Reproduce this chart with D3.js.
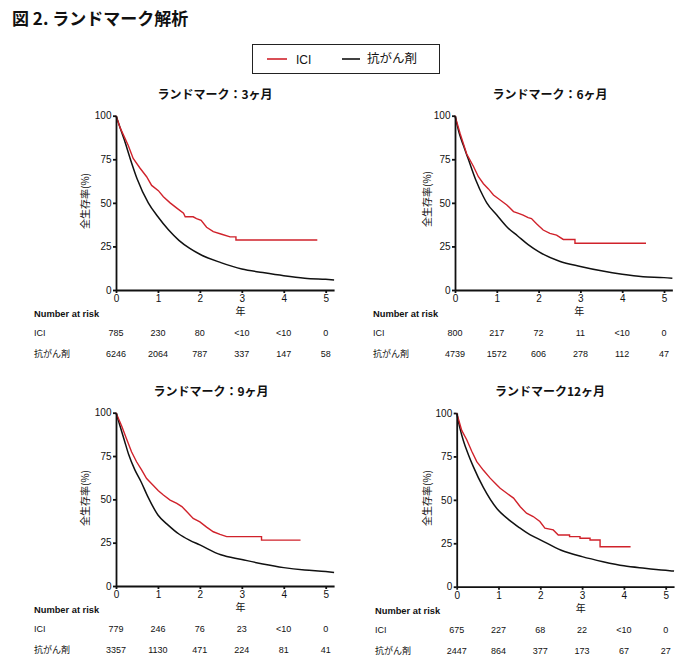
<!DOCTYPE html>
<html>
<head>
<meta charset="utf-8">
<script src="https://cdn.jsdelivr.net/npm/d3@7"></script>
<style>
body { margin: 0; background: #fff; }
svg { display: block; }
text { font-family: "Liberation Sans", Arial, "Noto Sans CJK JP", sans-serif; fill: #111; }
.jp { font-family: "Noto Sans CJK JP", sans-serif; }
.axis path, .axis line { stroke: #111; stroke-width: 1.8; }
.axis text { font-size: 10px; font-family: "Liberation Sans", Arial, sans-serif; fill: #111; }
</style>
</head>
<body>
<svg width="690" height="667"></svg>
<script>
// **** data ****

var years = [0, 1, 2, 3, 4, 5];
var yTicks = [0, 25, 50, 75, 100];
var panelTitles = ['ランドマーク：3ヶ月', 'ランドマーク：6ヶ月', 'ランドマーク：9ヶ月', 'ランドマーク12ヶ月'];
var seriesNames = ['ICI', '抗がん剤'];

// survival curves, [year, %]
var ici3 = [[0,100],[0.1,93],[0.29,83],[0.41,75.5],[0.57,70],[0.73,65],[0.85,60],[1.01,57],[1.13,53.5],[1.29,50],[1.45,47],[1.61,44],[1.65,42],[1.84,42],[1.92,41],[2.03,40],[2.16,36],[2.32,33.5],[2.52,32],[2.72,30.5],[2.86,30.5],[2.86,28.7],[4.8,28.7]];
var chemo3 = [[0,100],[0.1,93],[0.2,86],[0.33,76],[0.5,64],[0.77,50],[1,42],[1.25,34.5],[1.5,28.5],[1.75,24],[2,20.5],[2.5,15.7],[3,12],[3.5,10],[4,8.2],[4.5,6.8],[5,6.1],[5.2,5.8]];

var ici6 = [[0,100],[0.12,90],[0.28,78],[0.44,71],[0.56,65],[0.68,61],[0.8,58],[0.92,54.5],[1.08,51.6],[1.24,48.8],[1.4,45],[1.52,44],[1.63,43],[1.75,41.5],[1.83,41],[1.95,38],[2.11,34.4],[2.27,32.5],[2.43,31.5],[2.59,29],[2.87,29],[2.87,26.8],[4.57,26.8]];
var chemo6 = [[0,100],[0.1,90],[0.2,83],[0.32,75],[0.5,63],[0.68,53.5],[0.76,50],[1,43],[1.25,36],[1.5,31],[1.75,26],[2,22],[2.5,16.5],[3,13.5],[3.5,11],[4,9],[4.5,7.6],[5,7.1],[5.2,6.7]];

var ici9 = [[0,100],[0.14,92],[0.25,85],[0.37,77.5],[0.49,71.7],[0.61,67],[0.73,62],[0.89,58],[1.01,55],[1.13,52.5],[1.29,49.6],[1.45,47.7],[1.57,45.8],[1.69,42.9],[1.84,39],[2,37],[2.16,34],[2.32,31.3],[2.48,29.8],[2.64,28.5],[3.47,28.5],[3.47,26.5],[4.4,26.5]];
var chemo9 = [[0,100],[0.1,92],[0.2,84],[0.3,76],[0.45,67],[0.6,60],[0.75,52],[1,41],[1.25,35],[1.5,30],[1.75,26.5],[2,23.7],[2.5,18],[3,15.3],[3.5,12.7],[4,10.6],[4.5,9.2],[5,8.3],[5.2,7.8]];

var ici12 = [[0,100],[0.12,90],[0.24,84.6],[0.36,78],[0.48,72],[0.64,67],[0.8,62.5],[0.92,59.6],[1.04,56.7],[1.2,53.8],[1.36,51],[1.52,46],[1.67,42.3],[1.83,40.4],[1.99,37.5],[2.11,33.7],[2.31,32.7],[2.43,29.8],[2.7,29.8],[2.7,28.8],[2.95,28.8],[2.95,27.9],[3.19,27.9],[3.19,26.9],[3.43,26.9],[3.43,23],[4.16,23]];
var chemo12 = [[0,100],[0.08,91],[0.16,84],[0.28,76],[0.4,69],[0.64,57],[0.96,45],[1.25,38.5],[1.5,34],[1.75,30],[2,27],[2.5,21],[3,17.3],[3.5,14.4],[4,12],[4.5,10.6],[5,9.4],[5.2,9]];

// number at risk
var risk3ICI = ['785', '230', '80', '<10', '<10', '0'];
var risk3Chemo = ['6246', '2064', '787', '337', '147', '58'];
var risk6ICI = ['800', '217', '72', '11', '<10', '0'];
var risk6Chemo = ['4739', '1572', '606', '278', '112', '47'];
var risk9ICI = ['779', '246', '76', '23', '<10', '0'];
var risk9Chemo = ['3357', '1130', '471', '224', '81', '41'];
var risk12ICI = ['675', '227', '68', '22', '<10', '0'];
var risk12Chemo = ['2447', '864', '377', '173', '67', '27'];

// **** layout ****

var panels = [
    { x0: 116, x5: 325.7, top: 115.7, bot: 290, tx: 215, ty: 99, lx: 34, ylx: 85, yly: 201, ici: ici3, chemo: chemo3, rIci: risk3ICI, rChemo: risk3Chemo },
    { x0: 455, x5: 664, top: 115.7, bot: 290, tx: 550, ty: 99, lx: 373, ylx: 427, yly: 199, ici: ici6, chemo: chemo6, rIci: risk6ICI, rChemo: risk6Chemo },
    { x0: 116, x5: 325.7, top: 412.7, bot: 586, tx: 211, ty: 395.5, lx: 34, ylx: 85, yly: 498, ici: ici9, chemo: chemo9, rIci: risk9ICI, rChemo: risk9Chemo },
    { x0: 456.7, x5: 665.7, top: 413, bot: 586.7, tx: 550, ty: 396, lx: 375, ylx: 427, yly: 498, ici: ici12, chemo: chemo12, rIci: risk12ICI, rChemo: risk12Chemo }
];

var red = '#d0222b';
var black = '#111';

var svg = d3.select('svg');

// main title
svg.append('text')
    .attr('class', 'jp')
    .attr('x', 12)
    .attr('y', 25)
    .style('font-size', '17px')
    .style('font-weight', 'bold')
    .text('図 2.  ランドマーク解析');

// legend
svg.append('rect')
    .attr('x', 252.5).attr('y', 44.5)
    .attr('width', 187).attr('height', 29)
    .style('fill', 'none').style('stroke', '#222').style('stroke-width', 1);

svg.append('line')
    .attr('x1', 267).attr('x2', 287).attr('y1', 59).attr('y2', 59)
    .style('stroke', red).style('stroke-width', 1.6);
svg.append('text')
    .attr('x', 296).attr('y', 63.5)
    .style('font-size', '12px')
    .text(seriesNames[0]);
svg.append('line')
    .attr('x1', 342).attr('x2', 360).attr('y1', 59).attr('y2', 59)
    .style('stroke', black).style('stroke-width', 1.6);
svg.append('text')
    .attr('class', 'jp')
    .attr('x', 367).attr('y', 63)
    .style('font-size', '12.5px')
    .text(seriesNames[1]);

// panels
panels.forEach(function (p, i) {
    var kx = (p.x5 - p.x0) / 5;
    var xScale = d3.scaleLinear().domain([0, 5.2]).range([p.x0, p.x0 + 5.2 * kx]);
    var yScale = d3.scaleLinear().domain([0, 100]).range([p.bot, p.top]);

    var g = svg.append('g');

    g.append('text')
        .attr('class', 'jp')
        .attr('x', p.tx).attr('y', p.ty)
        .attr('text-anchor', 'middle')
        .style('font-size', '12px')
        .style('font-weight', 'bold')
        .text(panelTitles[i]);

    var line = d3.line()
        .x(function (d) { return xScale(d[0]); })
        .y(function (d) { return yScale(d[1]); });

    g.append('path')
        .datum(p.chemo)
        .attr('d', line.curve(d3.curveMonotoneX))
        .style('fill', 'none').style('stroke', black).style('stroke-width', 1.5);

    g.append('path')
        .datum(p.ici)
        .attr('d', line.curve(d3.curveLinear))
        .style('fill', 'none').style('stroke', red).style('stroke-width', 1.4);

    g.append('g').attr('class', 'x axis')
        .attr('transform', 'translate(0,' + p.bot + ')')
        .call(d3.axisBottom(xScale).tickValues(years).tickFormat(d3.format('d'))
            .tickSize(3).tickSizeOuter(0).tickPadding(2));

    g.append('g').attr('class', 'y axis')
        .attr('transform', 'translate(' + p.x0 + ',0)')
        .call(d3.axisLeft(yScale).tickValues(yTicks).tickFormat(d3.format('d'))
            .tickSize(3).tickSizeOuter(0).tickPadding(1.5));

    g.append('text')
        .attr('class', 'jp')
        .attr('transform', 'translate(' + p.ylx + ',' + p.yly + ') rotate(-90)')
        .attr('text-anchor', 'middle')
        .attr('dy', '0.35em')
        .style('font-size', '10px')
        .text('全生存率(%)');

    g.append('text')
        .attr('class', 'jp')
        .attr('x', xScale(2.97)).attr('y', p.bot + 25)
        .attr('text-anchor', 'middle')
        .style('font-size', '10px')
        .text('年');

    // number at risk table
    g.append('text')
        .attr('x', p.lx).attr('y', p.bot + 27)
        .style('font-size', '9.3px')
        .style('font-weight', 'bold')
        .text('Number at risk');

    g.append('text')
        .attr('x', p.lx).attr('y', p.bot + 46)
        .style('font-size', '9px')
        .text(seriesNames[0]);

    g.append('text')
        .attr('class', 'jp')
        .attr('x', p.lx).attr('y', p.bot + 67)
        .style('font-size', '9px')
        .text(seriesNames[1]);

    g.selectAll('.risk-ici')
        .data(p.rIci).enter()
        .append('text')
        .attr('class', 'risk-ici')
        .attr('x', function (d, j) { return xScale(years[j]); })
        .attr('y', p.bot + 46)
        .attr('text-anchor', 'middle')
        .style('font-size', '9px')
        .text(function (d) { return d; });

    g.selectAll('.risk-chemo')
        .data(p.rChemo).enter()
        .append('text')
        .attr('class', 'risk-chemo')
        .attr('x', function (d, j) { return xScale(years[j]); })
        .attr('y', p.bot + 67)
        .attr('text-anchor', 'middle')
        .style('font-size', '9px')
        .text(function (d) { return d; });
});
</script>
</body>
</html>
